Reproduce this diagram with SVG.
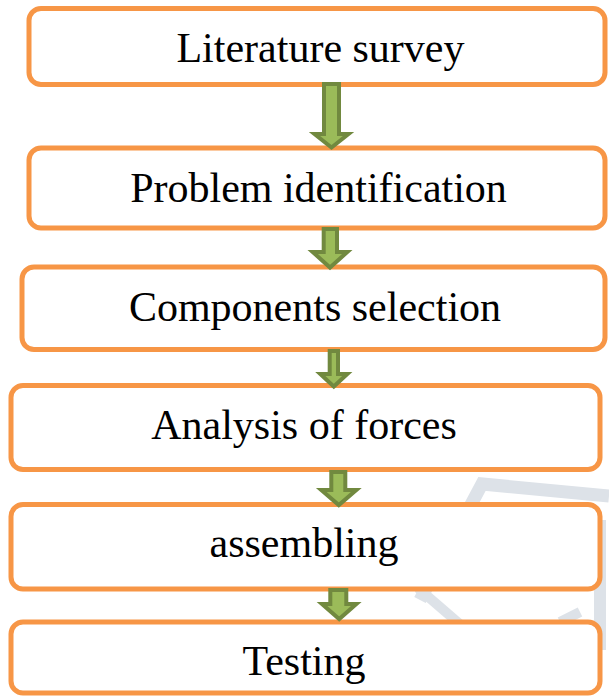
<svg xmlns="http://www.w3.org/2000/svg" width="609" height="697" viewBox="0 0 609 697">
  <style>
    .box { fill: #FFFFFF; stroke: #F79646; stroke-width: 5; }
    .lbl { font-family: "Liberation Serif", "Times New Roman", serif; font-size: 42px; fill: #000000; text-anchor: middle; }
    .arrow { fill: #9BBB59; stroke: #71893F; stroke-width: 4; stroke-linejoin: miter; }
    .mark { fill: none; stroke: #DDE2E8; stroke-linecap: butt; stroke-linejoin: miter; }
  </style>

  <rect width="609" height="697" fill="#FFFFFF"/>

  <!-- faint background mark -->
  <g id="backdrop">
    <polyline class="mark" stroke-width="13" points="420,600 482,484 609,496"/>
    <polyline class="mark" stroke-width="10" points="418,588 462,626"/>
    <polyline class="mark" stroke-width="10" points="560,622 580,612"/>
    <polyline class="mark" stroke-width="12" points="600,520 600,650"/>
  </g>

  <g id="step-literature">
    <rect class="box" x="29" y="8.5" width="576" height="76" rx="12"/>
    <text class="lbl" x="320.5" y="62">Literature survey</text>
  </g>
  <g id="step-problem">
    <rect class="box" x="29" y="148" width="576" height="80" rx="12"/>
    <text class="lbl" x="318.5" y="202">Problem identification</text>
  </g>
  <g id="step-components">
    <rect class="box" x="22" y="267" width="583" height="82.5" rx="12"/>
    <text class="lbl" x="315" y="321">Components selection</text>
  </g>
  <g id="step-analysis">
    <rect class="box" x="11" y="385.5" width="589" height="84" rx="12"/>
    <text class="lbl" x="304" y="439">Analysis of forces</text>
  </g>
  <g id="step-assembling">
    <rect class="box" x="11" y="504.5" width="589" height="84.5" rx="12"/>
    <text class="lbl" x="304" y="557">assembling</text>
  </g>
  <g id="step-testing">
    <rect class="box" x="11" y="622" width="589" height="71" rx="12"/>
    <text class="lbl" x="304" y="675">Testing</text>
  </g>

  <!-- block arrows between steps -->
  <g id="connectors">
    <path class="arrow" d="M324,84 H339 V134 H348.5 L331.5,147.5 L314.5,134 H324 Z"/>
    <path class="arrow" d="M323.7,229 H337 V252 H347.3 L330,267.5 L312.7,252 H323.7 Z"/>
    <path class="arrow" d="M329.7,351 H338 V374 H347.3 L333.8,386.5 L320.3,374 H329.7 Z"/>
    <path class="arrow" d="M331.3,472 H345.3 V490 H356.3 L338.8,505 L321.3,490 H331.3 Z"/>
    <path class="arrow" d="M330.3,590 H346.3 V604 H356.3 L339.2,619 L322,604 H330.3 Z"/>
  </g>
</svg>
